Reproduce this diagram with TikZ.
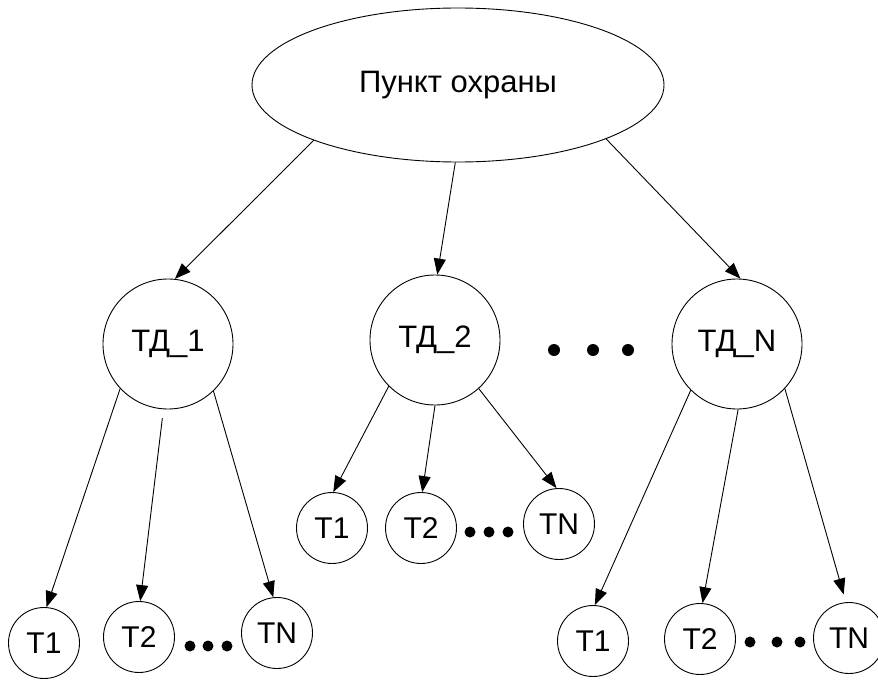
\documentclass[tikz,border=0pt]{standalone}
\usepackage{fontspec}
\setmainfont{Liberation Sans}
\usetikzlibrary{shapes.geometric,arrows.meta}
\tikzset{
  lbl/.style={font=\fontsize{31}{32}\selectfont},
  top/.style={ellipse,draw,line width=0.9pt,minimum width=412pt,minimum height=154pt,inner sep=0pt,lbl},
  mid/.style={circle,draw,line width=0.9pt,minimum size=130pt,inner sep=0pt,lbl},
  leaf/.style={circle,draw,line width=0.9pt,minimum size=71pt,inner sep=0pt,font=\fontsize{30}{31}\selectfont},
  bigdot/.style={circle,fill,inner sep=0pt,minimum size=12pt},
  smalldot/.style={circle,fill,inner sep=0pt,minimum size=11pt},
  arr/.style={line width=0.9pt,-{Triangle[length=16pt,width=12pt]}}
}
\begin{document}
\begin{tikzpicture}[x=1pt,y=-1pt]
\useasboundingbox (0,0) rectangle (878,680);
\fill[white] (0,0) rectangle (878,680);

\node[top] (p) at (458,85) {Пункт охраны};

\node[mid] (d1) at (168,344) {ТД\_1};
\node[mid] (d2) at (435,340) {ТД\_2};
\node[mid] (dn) at (737,344) {ТД\_N};

\node[bigdot] (u1) at (554,350) {};
\node[bigdot] (u2) at (593,350) {};
\node[bigdot] (u3) at (628,350) {};

% children of TD_1
\node[leaf] (a1) at (44,643) {T1};
\node[leaf] (a2) at (139,637) {T2};
\node[leaf] (an) at (277,633) {TN};
\node[smalldot] (ad1) at (190,646) {};
\node[smalldot] (ad2) at (208,646) {};
\node[smalldot] (ad3) at (227,646) {};

% children of TD_2
\node[leaf] (b1) at (332,528) {T1};
\node[leaf] (b2) at (421,528) {T2};
\node[leaf] (bn) at (559,524) {TN};
\node[smalldot] (bd1) at (470,532) {};
\node[smalldot] (bd2) at (489,532) {};
\node[smalldot] (bd3) at (508,532) {};

% children of TD_N
\node[leaf] (c1) at (593,641) {T1};
\node[leaf] (c2) at (700,639) {T2};
\node[leaf] (cn) at (849,638) {TN};
\node[smalldot] (cd1) at (750,642) {};
\node[smalldot] (cd2) at (777,642) {};
\node[smalldot] (cd3) at (800,642) {};

% connectors
\draw[arr] (p.201) -- (d1.84);
\draw[arr] (p.268) -- (d2.88);
\draw[arr] (p.340) -- (dn.87);

\draw[arr] (d1.223) -- (a1.86);
\draw[arr,shorten <=9pt] (d1.266) -- (a2.88);
\draw[arr] (d1.314) -- (an.96);

\draw[arr] (d2.225) -- (b1.88);
\draw[arr] (d2.270) -- (b2.88);
\draw[arr] (d2.312) -- (bn.94);

\draw[arr] (dn.225) -- (c1.87);
\draw[arr] (dn.271) -- (c2.86);
\draw[arr,shorten >=8pt] (dn.317) -- (cn.95);
\end{tikzpicture}
\end{document}
